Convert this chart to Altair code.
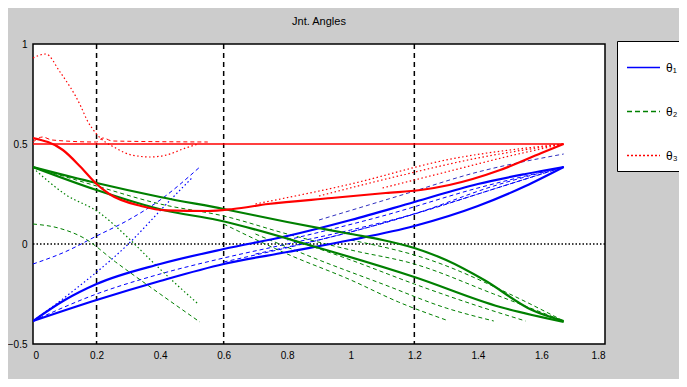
import altair as alt
import pandas as pd

# ---- values (x, y) ----
series_names = ["θ₁", "θ₂", "θ₃"]
series_colors = ["#0000ff", "#008000", "#ff0000"]
series_dash = [[1, 0], [5, 3], [2, 2]]

x_ticks = [0, 0.2, 0.4, 0.6, 0.8, 1.0, 1.2, 1.4, 1.6, 1.8]
y_ticks = [-0.5, 0, 0.5, 1]
grid_x = [0.2, 0.6, 1.2]
grid_y = [0]

# blue family (theta 1)
blue_thick_a = [(0, -0.385), (0.1, -0.28), (0.2, -0.2), (0.4, -0.1), (0.6, -0.025), (0.8, 0.04),
                (1.0, 0.12), (1.2, 0.21), (1.4, 0.3), (1.55, 0.35), (1.67, 0.385)]
blue_thick_b = [(0, -0.385), (0.2, -0.28), (0.4, -0.185), (0.6, -0.1), (0.8, -0.04), (1.0, 0.02),
                (1.2, 0.09), (1.4, 0.19), (1.55, 0.29), (1.67, 0.385)]
blue_dash_a = [(0, -0.385), (0.2, -0.25), (0.4, -0.15), (0.6, -0.07), (0.8, 0.0), (1.0, 0.07),
               (1.2, 0.15), (1.4, 0.25), (1.67, 0.385)]
blue_dash_b = [(0.6, -0.09), (0.9, 0.02), (1.2, 0.15), (1.45, 0.29), (1.67, 0.385)]
blue_dash_c = [(0.7, -0.05), (1.0, 0.06), (1.3, 0.2), (1.5, 0.3), (1.67, 0.385)]
blue_dash_d = [(0.8, 0.02), (1.1, 0.14), (1.4, 0.28), (1.67, 0.385)]
blue_dash_e = [(0.9, 0.12), (1.15, 0.24), (1.4, 0.36), (1.67, 0.45)]
blue_dash_f = [(0, -0.1), (0.1, -0.04), (0.2, 0.04), (0.3, 0.12), (0.4, 0.22), (0.525, 0.385)]
blue_dash_g = [(0, -0.385), (0.13, -0.23), (0.3, 0.0), (0.42, 0.2), (0.5, 0.33)]

# green family (theta 2)
green_thick_a = [(0, 0.385), (0.2, 0.305), (0.4, 0.235), (0.6, 0.175), (0.8, 0.11), (1.0, 0.05),
                 (1.1, 0.02), (1.2, -0.02), (1.3, -0.08), (1.42, -0.18), (1.57, -0.33), (1.67, -0.385)]
green_thick_b = [(0, 0.385), (0.2, 0.27), (0.41, 0.17), (0.58, 0.12), (0.89, -0.015), (1.2, -0.165),
                 (1.47, -0.315), (1.67, -0.39)]
green_dash_a = [(0, 0.385), (0.2, 0.29), (0.4, 0.2), (0.6, 0.14), (0.8, 0.05), (1.0, -0.03),
                (1.2, -0.1), (1.45, -0.25), (1.67, -0.385)]
green_dash_b = [(0.6, 0.1), (0.8, -0.05), (1.0, -0.18), (1.15, -0.29), (1.3, -0.38)]
green_dash_c = [(0.7, 0.05), (0.9, -0.08), (1.1, -0.2), (1.3, -0.32), (1.45, -0.385)]
green_dash_d = [(0.8, 0.03), (1.0, -0.08), (1.2, -0.2), (1.4, -0.31), (1.55, -0.385)]
green_dash_e = [(1.0, 0.02), (1.25, -0.08), (1.5, -0.25), (1.67, -0.385)]
green_dash_f = [(0, 0.1), (0.08, 0.08), (0.16, 0.03), (0.26, -0.09), (0.4, -0.25), (0.525, -0.39)]
green_dash_g = [(0, 0.38), (0.1, 0.25), (0.21, 0.155), (0.3, 0.03), (0.37, -0.08), (0.45, -0.2), (0.52, -0.3)]

# red family (theta 3)
red_level = [(0, 0.5), (1.67, 0.5)]
red_thick = [(0, 0.53), (0.094, 0.47), (0.15, 0.385), (0.2, 0.3), (0.24, 0.25), (0.34, 0.19),
             (0.42, 0.168), (0.55, 0.165), (0.63, 0.175), (0.74, 0.2), (0.94, 0.23), (1.11, 0.255),
             (1.22, 0.27), (1.31, 0.295), (1.47, 0.37), (1.6, 0.455), (1.67, 0.5)]
red_dot_a = [(0, 0.93), (0.04, 0.95), (0.085, 0.86), (0.15, 0.69), (0.17, 0.62), (0.2, 0.55),
             (0.26, 0.48), (0.31, 0.445), (0.37, 0.435), (0.42, 0.445), (0.48, 0.48), (0.52, 0.5)]
red_dot_b = [(0, 0.51), (0.03, 0.535), (0.06, 0.52), (0.2, 0.51), (0.22, 0.53), (0.25, 0.515), (0.55, 0.51)]
red_dot_c = [(0.7, 0.2), (1.0, 0.3), (1.3, 0.42), (1.67, 0.5)]
red_dot_d = [(0.9, 0.24), (1.15, 0.34), (1.4, 0.43), (1.67, 0.5)]
red_dot_e = [(1.1, 0.28), (1.3, 0.36), (1.5, 0.44), (1.67, 0.5)]

curves = [
    ("blue_thick_a", blue_thick_a, "#0000ff", "thick"),
    ("blue_thick_b", blue_thick_b, "#0000ff", "thick"),
    ("blue_dash_a", blue_dash_a, "#0000ff", "dash"),
    ("blue_dash_b", blue_dash_b, "#0000ff", "dash"),
    ("blue_dash_c", blue_dash_c, "#0000ff", "dash"),
    ("blue_dash_d", blue_dash_d, "#0000ff", "dash"),
    ("blue_dash_e", blue_dash_e, "#3030c0", "dash"),
    ("blue_dash_f", blue_dash_f, "#0000ff", "dash"),
    ("blue_dash_g", blue_dash_g, "#0000ff", "dot"),
    ("green_thick_a", green_thick_a, "#008000", "thick"),
    ("green_thick_b", green_thick_b, "#008000", "thick"),
    ("green_dash_a", green_dash_a, "#008000", "dash"),
    ("green_dash_b", green_dash_b, "#008000", "dash"),
    ("green_dash_c", green_dash_c, "#008000", "dash"),
    ("green_dash_d", green_dash_d, "#008000", "dash"),
    ("green_dash_e", green_dash_e, "#008000", "dash"),
    ("green_dash_f", green_dash_f, "#008000", "dash"),
    ("green_dash_g", green_dash_g, "#008000", "dot"),
    ("red_level", red_level, "#ff0000", "level"),
    ("red_thick", red_thick, "#ff0000", "thick"),
    ("red_dot_a", red_dot_a, "#ff0000", "dot"),
    ("red_dot_b", red_dot_b, "#ff0000", "dash"),
    ("red_dot_c", red_dot_c, "#ff0000", "dot"),
    ("red_dot_d", red_dot_d, "#ff0000", "dot"),
    ("red_dot_e", red_dot_e, "#ff0000", "dot"),
]

rows = []
for name, pts, col, style in curves:
    for i, (xv, yv) in enumerate(pts):
        rows.append({"curve": name, "x": xv, "y": yv, "col": col, "style": style, "i": i})
df = pd.DataFrame(rows)

xscale = alt.Scale(domain=[0, 1.8], nice=False)
yscale = alt.Scale(domain=[-0.5, 1], nice=False)
FONT = "Liberation Sans"

x_enc = alt.X("x:Q", scale=xscale,
              axis=alt.Axis(values=x_ticks, title=None, ticks=False, grid=False, domain=False,
                            labelExpr="format(datum.value, '~g')", labelFont=FONT, labelFontSize=10,
                            labelColor="black", labelPadding=6))
y_enc = alt.Y("y:Q", scale=yscale,
              axis=alt.Axis(values=y_ticks, title=None, ticks=False, grid=False, domain=False,
                            labelExpr="format(datum.value, '~g')", labelFont=FONT, labelFontSize=10,
                            labelColor="black", labelPadding=6))


def style_layer(style, width, dash=None):
    kw = dict(strokeWidth=width, interpolate="monotone", clip=True)
    if dash is not None:
        kw["strokeDash"] = dash
    return alt.Chart(df).transform_filter(alt.datum.style == style).mark_line(**kw).encode(
        x=x_enc, y=y_enc, detail="curve:N", order="i:Q",
        color=alt.Color("col:N", scale=None, legend=None))


grid_v = alt.Chart(pd.DataFrame({"gx": grid_x})).mark_rule(
    color="black", strokeWidth=1.5, strokeDash=[5, 4]).encode(x=alt.X("gx:Q", scale=xscale))
grid_h = alt.Chart(pd.DataFrame({"gy": grid_y})).mark_rule(
    color="black", strokeWidth=1.5, strokeDash=[1.5, 2]).encode(y=alt.Y("gy:Q", scale=yscale))

legend_opts = dict(title=None, orient="none", legendX=584, legendY=-3,
                   symbolType="stroke", symbolSize=1089, symbolStrokeWidth=1.5,
                   labelFont=FONT, labelFontSize=12, labelColor="black",
                   padding=9, rowPadding=20, strokeColor="black", fillColor="white", labelOffset=5)

# legend-only layer (points placed outside the domain and clipped)
leg_df = pd.DataFrame({"series": [s for s in series_names for _ in range(2)],
                       "x": [-1, -0.9] * 3, "y": [0, 0] * 3})
legend_layer = alt.Chart(leg_df).mark_line(clip=True, strokeWidth=1.5).encode(
    x=alt.X("x:Q", scale=xscale), y=alt.Y("y:Q", scale=yscale),
    color=alt.Color("series:N", scale=alt.Scale(domain=series_names, range=series_colors),
                    legend=alt.Legend(**legend_opts)),
    strokeDash=alt.StrokeDash("series:N", scale=alt.Scale(domain=series_names, range=series_dash),
                              legend=alt.Legend(**legend_opts)),
)

chart = alt.layer(
    grid_v, grid_h,
    style_layer("dash", 1, [4, 3]),
    style_layer("dot", 1.2, [1.5, 2.5]),
    style_layer("level", 1.6),
    style_layer("thick", 2.2),
    legend_layer,
).resolve_scale(color="independent", strokeDash="independent").properties(
    width=572, height=300,
    title=alt.TitleParams("Jnt. Angles", font=FONT, fontSize=11, fontWeight="normal", color="black", offset=12),
    padding={"left": 25, "top": 36, "right": 74, "bottom": 35},
    autosize=alt.AutoSizeParams(type="none"),
    background="#cccccc",
).configure_view(stroke="black", strokeWidth=1.5, fill="white")

chart.save("out.html", embed_options={"renderer": "svg", "actions": False})
